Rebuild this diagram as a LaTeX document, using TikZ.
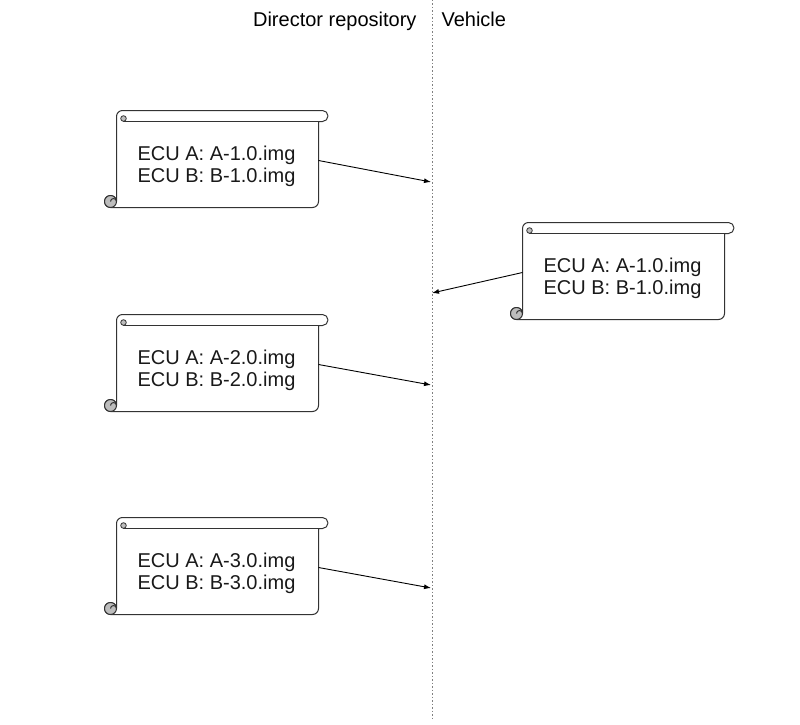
\documentclass[tikz,border=0pt]{standalone}
\usepackage{fontspec}
\setmainfont{Liberation Sans}
\usetikzlibrary{arrows.meta}
\definecolor{ink}{HTML}{333333}
\definecolor{curl}{HTML}{BDBDBD}
\tikzset{
  scrollline/.style={draw=ink, line width=1pt, line join=round},
  conn/.style={draw=black, line width=0.9pt, -{Latex[length=7pt,width=5pt]}},
  ecu/.style={font=\fontsize{20}{22}\selectfont, align=center, text=black!90},
  scroll/.pic={
    \path[scrollline, fill=white] (0,91) -- (0,6) arc[start angle=180,end angle=270,radius=6]
      -- (206,0) arc[start angle=270,end angle=450,radius=5.5]
      -- (202,11) -- (202,91) arc[start angle=0,end angle=90,radius=6]
      -- (-6,97) arc[start angle=90,end angle=360,radius=6] -- cycle;
    \path[scrollline] (6,11) -- (202,11);
    \path[scrollline, fill=curl] (-6,91) circle[radius=6];
    \path[scrollline] (0,91) arc[start angle=0,end angle=-180,radius=3];
    \path[scrollline, fill=curl, line width=0.8pt] (7,8) circle[radius=2.8];
    \node[ecu] (-t) at (100,56) {#1};
    \coordinate (-r) at (202,50);
    \coordinate (-l) at (0,50);
  }
}
\begin{document}
\begin{tikzpicture}[x=1pt,y=-1pt]
  \useasboundingbox (0,0) rectangle (800,725);
  \draw[gray, line width=0.9pt, dash pattern=on 1.5pt off 2pt] (432,0) -- (432,720);
  \node[font=\fontsize{20}{22}\selectfont, anchor=base east] (hdir) at (420,27) {Director repository};
  \node[font=\fontsize{20}{22}\selectfont, anchor=base west] (hveh) at (438,27) {Vehicle};

  \pic (s1) at (116.5,110.5) {scroll={ECU A: A-1.0.img\\ECU B: B-1.0.img}};
  \pic (s2) at (522.5,222.5) {scroll={ECU A: A-1.0.img\\ECU B: B-1.0.img}};
  \pic (s3) at (116.5,314.5) {scroll={ECU A: A-2.0.img\\ECU B: B-2.0.img}};
  \pic (s4) at (116.5,517.5) {scroll={ECU A: A-3.0.img\\ECU B: B-3.0.img}};

  \coordinate (e1) at (431,182);
  \coordinate (e2) at (432,293);
  \coordinate (e3) at (431,385);
  \coordinate (e4) at (431,588);

  \draw[conn] (s1-r) -- (e1);
  \draw[conn] (s2-l) -- (e2);
  \draw[conn] (s3-r) -- (e3);
  \draw[conn] (s4-r) -- (e4);
\end{tikzpicture}
\end{document}
